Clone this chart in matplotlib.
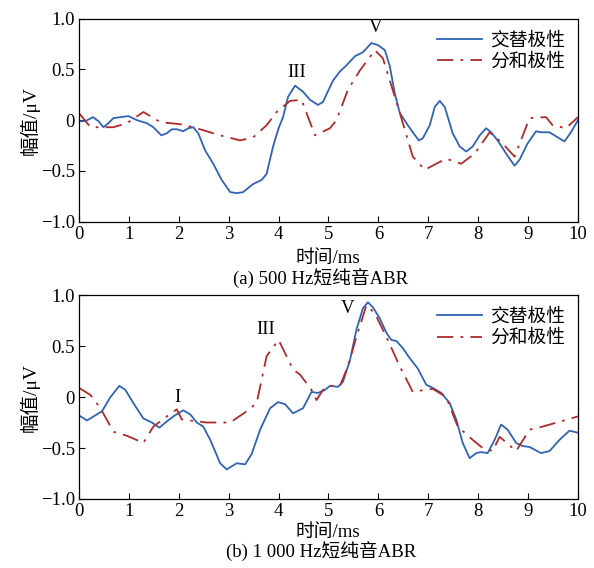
import matplotlib
matplotlib.use("Agg")
import matplotlib.pyplot as plt

plt.rcParams['font.family'] = ['Liberation Serif', 'Noto Sans CJK SC']
plt.rcParams['axes.unicode_minus'] = True

# ---- data: panel (a) 500 Hz ----
a_alt_t = [0, 0.13, 0.28, 0.39, 0.49, 0.59, 0.69, 0.99, 1.16, 1.36, 1.49, 1.65, 1.76, 1.86, 1.96,
           2.09, 2.19, 2.29, 2.39, 2.53, 2.69, 2.86, 3.03, 3.16, 3.29, 3.49, 3.66, 3.76, 3.89, 4.0,
           4.09, 4.19, 4.33, 4.49, 4.63, 4.79, 4.89, 5.09, 5.23, 5.36, 5.53, 5.69, 5.86, 5.99, 6.13,
           6.23, 6.33, 6.43, 6.59, 6.69, 6.81, 6.89, 7.03, 7.13, 7.23, 7.33, 7.49, 7.63, 7.76, 7.89,
           8.03, 8.16, 8.26, 8.39, 8.56, 8.73, 8.83, 8.99, 9.16, 9.26, 9.43, 9.56, 9.73, 9.86, 10.0]
a_alt_v = [-0.01, -0.01, 0.03, -0.01, -0.07, -0.03, 0.02, 0.04, 0.0, -0.03, -0.07, -0.15, -0.13, -0.09, -0.09,
           -0.11, -0.08, -0.07, -0.13, -0.30, -0.43, -0.59, -0.71, -0.72, -0.71, -0.63, -0.59, -0.53, -0.26, -0.08,
           0.03, 0.23, 0.34, 0.28, 0.20, 0.15, 0.18, 0.39, 0.48, 0.54, 0.63, 0.67, 0.76, 0.74, 0.69,
           0.53, 0.26, 0.07, -0.05, -0.12, -0.20, -0.18, -0.05, 0.13, 0.19, 0.13, -0.13, -0.26, -0.31, -0.26,
           -0.15, -0.08, -0.12, -0.20, -0.33, -0.45, -0.39, -0.23, -0.11, -0.12, -0.12, -0.16, -0.21, -0.12, 0.0]
a_sum_t = [0, 0.23, 0.69, 0.96, 1.29, 1.63, 2.03, 2.29, 2.83, 3.23, 3.49, 3.76, 3.96, 4.23, 4.46,
           4.73, 5.03, 5.16, 5.39, 5.63, 5.93, 6.09, 6.23, 6.43, 6.69, 6.93, 7.16, 7.36, 7.66, 7.93,
           8.23, 8.49, 8.73, 9.03, 9.36, 9.49, 9.76, 10.0]
a_sum_v = [0.07, -0.07, -0.07, -0.03, 0.08, -0.02, -0.04, -0.07, -0.15, -0.20, -0.17, -0.05, 0.08, 0.19, 0.20,
           -0.15, -0.08, 0.0, 0.30, 0.49, 0.69, 0.61, 0.39, 0.07, -0.36, -0.49, -0.43, -0.38, -0.43, -0.33,
           -0.12, -0.23, -0.36, 0.02, 0.03, -0.05, -0.08, 0.03]

# ---- data: panel (b) 1000 Hz ----
b_alt_t = [0, 0.16, 0.36, 0.46, 0.63, 0.81, 0.93, 1.09, 1.29, 1.46, 1.61, 1.76, 1.89, 2.09, 2.23,
           2.36, 2.49, 2.63, 2.83, 2.96, 3.16, 3.33, 3.46, 3.63, 3.83, 3.99, 4.13, 4.29, 4.49, 4.66,
           4.79, 4.93, 5.03, 5.19, 5.29, 5.43, 5.56, 5.69, 5.79, 5.89, 6.03, 6.16, 6.26, 6.36, 6.49,
           6.63, 6.79, 6.96, 7.09, 7.26, 7.43, 7.56, 7.69, 7.83, 7.96, 8.06, 8.19, 8.33, 8.46, 8.59,
           8.76, 8.89, 9.03, 9.26, 9.43, 9.63, 9.83, 10.0]
b_alt_v = [-0.18, -0.23, -0.17, -0.14, 0.0, 0.11, 0.07, -0.06, -0.21, -0.25, -0.30, -0.24, -0.19, -0.13, -0.17,
           -0.25, -0.29, -0.42, -0.65, -0.71, -0.65, -0.66, -0.56, -0.32, -0.11, -0.05, -0.07, -0.16, -0.11, 0.05,
           0.04, 0.07, 0.11, 0.10, 0.15, 0.36, 0.66, 0.87, 0.93, 0.88, 0.77, 0.63, 0.56, 0.55, 0.48,
           0.38, 0.28, 0.12, 0.09, 0.04, -0.06, -0.22, -0.45, -0.60, -0.55, -0.54, -0.55, -0.42, -0.27, -0.32,
           -0.45, -0.48, -0.49, -0.55, -0.53, -0.42, -0.33, -0.35]
b_sum_t = [0, 0.23, 0.43, 0.69, 0.96, 1.29, 1.49, 1.76, 1.96, 2.06, 2.56, 3.03, 3.36, 3.56, 3.76,
           4.0, 4.29, 4.43, 4.66, 4.76, 4.89, 5.03, 5.23, 5.39, 5.56, 5.76, 5.93, 6.16, 6.43, 6.69,
           6.93, 7.09, 7.36, 7.59, 7.89, 8.09, 8.29, 8.43, 8.76, 9.03, 9.29, 10.0]
b_sum_v = [0.09, 0.02, -0.11, -0.34, -0.38, -0.45, -0.29, -0.19, -0.12, -0.22, -0.25, -0.25, -0.14, -0.06, 0.40,
           0.56, 0.27, 0.22, 0.07, -0.03, 0.07, 0.11, 0.11, 0.30, 0.59, 0.90, 0.82, 0.59, 0.30, 0.05,
           0.07, 0.08, 0.0, -0.29, -0.42, -0.50, -0.53, -0.39, -0.53, -0.32, -0.29, -0.19]

series_names = ['交替极性', '分和极性']
x_ticks = [0, 1, 2, 3, 4, 5, 6, 7, 8, 9, 10]
y_ticks = [-1.0, -0.5, 0, 0.5, 1.0]
y_tick_labels = ['\u22121.0', '\u22120.5', '0', '0.5', '1.0']

a_peaks = [('III', 4.37, 0.47), ('V', 5.95, 0.91)]
b_peaks = [('I', 1.97, 0.0), ('III', 3.74, 0.66), ('V', 5.39, 0.87)]

BLUE = '#2f63b5'
RED = '#b02a2a'
FS = 13.5

fig = plt.figure(figsize=(5.94, 5.68), dpi=100)
ax_a = fig.add_axes([0.133, 0.610, 0.840, 0.357])
ax_b = fig.add_axes([0.133, 0.1215, 0.840, 0.359])


def draw(ax, alt_t, alt_v, sum_t, sum_v, peaks):
    ax.plot(alt_t, alt_v, color=BLUE, lw=1.3, label=series_names[0])
    ax.plot(sum_t, sum_v, color=RED, lw=1.3, linestyle=(0, (9, 4, 1.5, 4)), label=series_names[1])
    ax.set_xlim(0, 10)
    ax.set_ylim(-1.0, 1.0)
    ax.set_xticks(x_ticks)
    ax.set_yticks(y_ticks)
    ax.set_yticklabels(y_tick_labels)
    ax.tick_params(direction='in', length=4, width=0.8, labelsize=FS, pad=3)
    for s in ax.spines.values():
        s.set_linewidth(0.9)
    ax.set_ylabel('幅值/μV', fontsize=14, labelpad=1)
    for txt, x, y in peaks:
        ax.text(x, y, txt, fontsize=FS, ha='center', va='center')
    ax.legend(loc='upper right', frameon=False, fontsize=FS, handlelength=2.4,
              handletextpad=0.4, labelspacing=0.2, borderaxespad=0.3)


draw(ax_a, a_alt_t, a_alt_v, a_sum_t, a_sum_v, a_peaks)
draw(ax_b, b_alt_t, b_alt_v, b_sum_t, b_sum_v, b_peaks)

fig.text(0.551, 1 - 258 / 568, '时间/ms', fontsize=FS, ha='center', va='center')
fig.text(0.54, 1 - 278 / 568, '(a) 500 Hz短纯音ABR', fontsize=FS, ha='center', va='center')
fig.text(0.551, 1 - 532 / 568, '时间/ms', fontsize=FS, ha='center', va='center')
fig.text(0.54, 1 - 551 / 568, '(b) 1 000 Hz短纯音ABR', fontsize=FS, ha='center', va='center')

fig.savefig('out.png', dpi=100)
